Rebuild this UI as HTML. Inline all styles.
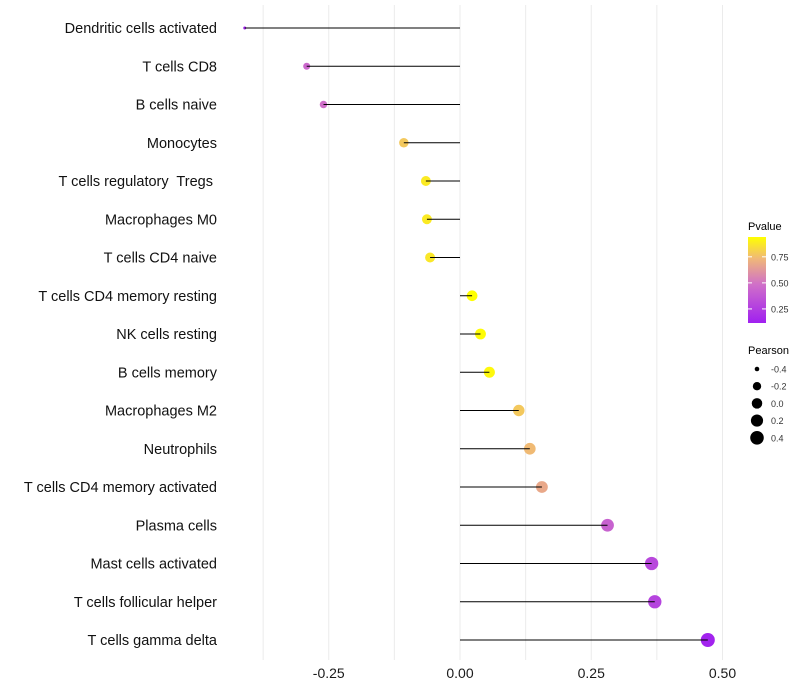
<!DOCTYPE html>
<html><head><meta charset="utf-8"><style>
body{margin:0;background:#fff;}
svg{display:block;font-family:"Liberation Sans",sans-serif;}
text{white-space:pre;}
</style></head><body>
<svg id="chart" width="800" height="700" viewBox="0 0 800 700" xmlns="http://www.w3.org/2000/svg">
<g id="grid"></g>
<g id="marks"></g>
<g id="ylab"></g>
<g id="xlab"></g>
<g id="legend">
<defs><linearGradient id="pg" x1="0" y1="1" x2="0" y2="0">
<stop offset="0" stop-color="#a020f0"/><stop offset="0.45" stop-color="#d070c8"/><stop offset="0.75" stop-color="#f0b878"/><stop offset="1" stop-color="#ffff00"/>
</linearGradient></defs>
<text x="748" y="230" font-size="11" fill="#000">Pvalue</text>
<rect x="748" y="237" width="18" height="86" fill="url(#pg)"/>
<g id="cbticks"></g>
<text x="748" y="354" font-size="11" fill="#000">Pearson</text>
<g id="sizeleg"></g>
</g>
</svg>
<script>
const categories=["Dendritic cells activated","T cells CD8","B cells naive","Monocytes","T cells regulatory  Tregs ","Macrophages M0","T cells CD4 naive","T cells CD4 memory resting","NK cells resting","B cells memory","Macrophages M2","Neutrophils","T cells CD4 memory activated","Plasma cells","Mast cells activated","T cells follicular helper","T cells gamma delta"];
const pearson=[-0.41,-0.292,-0.26,-0.107,-0.065,-0.063,-0.057,0.023,0.039,0.056,0.112,0.133,0.156,0.281,0.365,0.371,0.472];
const pvalue=[0.12,0.45,0.48,0.78,0.88,0.88,0.87,0.94,0.93,0.92,0.78,0.74,0.68,0.42,0.3,0.28,0.13];
const xTicks=[-0.25,0,0.25,0.5];
const xTickLabels=["-0.25","0.00","0.25","0.50"];
const gridVals=[-0.375,-0.25,-0.125,0,0.125,0.25,0.375,0.5];
const cbTicks=[0.25,0.5,0.75];
const cbTickLabels=["0.25","0.50","0.75"];
const sizeVals=[-0.4,-0.2,0.0,0.2,0.4];
const sizeLabels=["-0.4","-0.2","0.0","0.2","0.4"];

const NS="http://www.w3.org/2000/svg";
const x=v=>460+v*525;
const y=i=>28+i*38.25;
const r=v=>1.5+5.5*Math.sqrt(Math.max(0,(v+0.41)/0.88));
const pMin=0.115,pMax=0.94;
const stops=[[0,[160,32,240]],[0.45,[208,112,200]],[0.75,[240,184,120]],[1,[255,255,0]]];
function col(p){let t=Math.max(0,Math.min(1,(p-pMin)/(pMax-pMin)));
 for(let k=1;k<stops.length;k++){if(t<=stops[k][0]){const a=stops[k-1],b=stops[k];const f=(t-a[0])/(b[0]-a[0]);
 return "rgb("+a[1].map((c,j)=>Math.round(c+(b[1][j]-c)*f)).join(",")+")";}} return "rgb(255,255,0)";}
function mk(tag,attrs,parent,txt){const e=document.createElementNS(NS,tag);for(const k in attrs)e.setAttribute(k,attrs[k]);if(txt!==undefined)e.textContent=txt;parent.appendChild(e);return e;}
const grid=document.getElementById('grid'),marks=document.getElementById('marks'),ylab=document.getElementById('ylab'),xlab=document.getElementById('xlab');
gridVals.forEach(v=>{const l=mk('line',{x1:x(v),x2:x(v),y1:5,y2:660,stroke:'#ebebeb','stroke-width':1},grid);

});
xTicks.forEach((v,i)=>{const t=mk('text',{x:x(v),y:678,'font-size':14,'text-anchor':'middle',fill:'#1a1a1a'},xlab,xTickLabels[i]);

});
categories.forEach((c,i)=>{
 const t=mk('text',{x:217,y:y(i)+5,'font-size':14.5,'text-anchor':'end',fill:'#111'},ylab,c);
 
 
 const c1=mk('circle',{cx:x(pearson[i]),cy:y(i),r:r(pearson[i]),fill:col(pvalue[i])},marks);
 
 
 const l=mk('line',{x1:x(0),x2:x(pearson[i]),y1:y(i),y2:y(i),stroke:'#000','stroke-width':1},marks);
 
 
});
const cb=document.getElementById('cbticks');
cbTicks.forEach((v,i)=>{const yy=323-(v-pMin)/(pMax-pMin)*86;
 mk('line',{x1:748,x2:752,y1:yy,y2:yy,stroke:'#fff','stroke-width':1},cb);
 mk('line',{x1:762,x2:766,y1:yy,y2:yy,stroke:'#fff','stroke-width':1},cb);
 const t=mk('text',{x:771,y:yy+3.5,'font-size':9,fill:'#333'},cb,cbTickLabels[i]);
 
 });
const sl=document.getElementById('sizeleg');
sizeVals.forEach((v,i)=>{const yy=369+i*17.2;
 const c=mk('circle',{cx:757,cy:yy,r:Math.max(2.3,r(v)),fill:'#000'},sl);
 
 
 const t=mk('text',{x:771,y:yy+3.5,'font-size':9,fill:'#333'},sl,sizeLabels[i]);
 
 });
</script>
</body></html>
